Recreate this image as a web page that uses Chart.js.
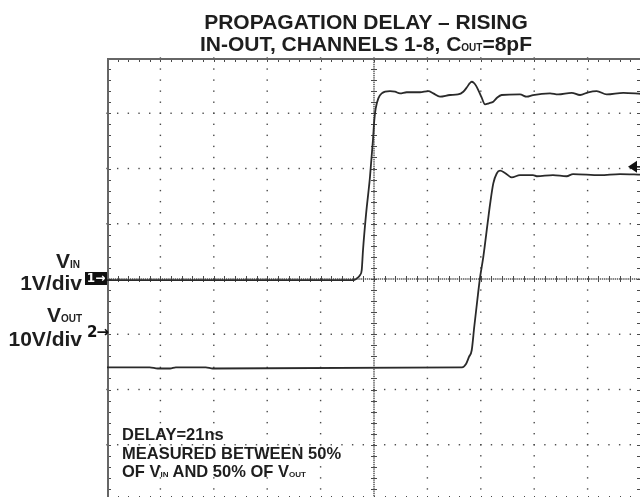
<!DOCTYPE html>
<html>
<head>
<meta charset="utf-8">
<script src="https://cdn.jsdelivr.net/npm/chart.js@4.4.1/dist/chart.umd.min.js"></script>
<style>
  html, body { margin: 0; padding: 0; background: #fff; overflow: hidden; width: 640px; height: 497px; }
  #wrap { position: relative; width: 640px; height: 497px; overflow: hidden; }
  #scope { position: absolute; left: 0; top: 0; }
  .t { position: absolute; white-space: nowrap; font-family: "Liberation Sans", Arial, sans-serif; font-weight: bold; color: #1e1e1e; }
  .sub { font-size: 10px; }
  .mk { font-family: "DejaVu Sans", "Liberation Sans", sans-serif; }
</style>
</head>
<body>
<div id="wrap">
  <canvas id="scope" width="641" height="500"></canvas>

  <div class="t" style="left:0;width:732px;text-align:center;top:10.7px;font-size:21px;line-height:21px">PROPAGATION DELAY – RISING</div>
  <div class="t" style="left:0;width:732px;text-align:center;top:33.2px;font-size:21px;line-height:21px">IN-OUT, CHANNELS 1-8, C<span class="sub">OUT</span>=8pF</div>

  <div class="t" style="left:0;width:80px;text-align:right;top:250.2px;font-size:21px;line-height:21px">V<span class="sub">IN</span></div>
  <div class="t" style="left:0;width:82px;text-align:right;top:271.7px;font-size:21px;line-height:21px">1V/div</div>
  <div class="t" style="left:0;width:82px;text-align:right;top:304.2px;font-size:21px;line-height:21px">V<span class="sub">OUT</span></div>
  <div class="t" style="left:0;width:82px;text-align:right;top:328.2px;font-size:21px;line-height:21px">10V/div</div>

  <div class="t mk" style="left:85px;top:272px;width:22px;height:13px;background:#111;color:#fff;font-size:12px;line-height:13px;text-align:center">1→</div>
  <div class="t mk" style="left:87px;top:325px;font-size:15px;line-height:15px;color:#111;letter-spacing:-1px">2→</div>

  <div class="t" style="left:122px;top:426px;font-size:16.5px;line-height:16.5px">DELAY=21ns</div>
  <div class="t" style="left:122px;top:444.5px;font-size:16.5px;line-height:16.5px">MEASURED BETWEEN 50%</div>
  <div class="t" style="left:122px;top:463px;font-size:16.5px;line-height:16.5px">OF V<span class="sub" style="font-size:8px">IN</span> AND 50% OF V<span class="sub" style="font-size:8px">OUT</span></div>
</div>

<script>
'use strict';

// Time axis in ns (10 ns/div), vertical axis in divisions
const X_MIN = -50, X_MAX = 50, X_STEP = 10;
const Y_MIN = -4, Y_MAX = 4, Y_STEP = 1;
const TRIG_LEVEL = 2.03;

// Channel 1 (VIN, 1V/div)
const vinTime = [-50, -3.75, -3.24, -2.62, -2.30, -2.06, -1.50, -0.75, -0.19, 0.06, 0.32, 0.81, 1.44,
  3.0, 3.93, 4.87, 6.12, 8.61, 10.17, 11.1, 12.36, 14.23, 15.73, 16.72, 17.4, 17.9, 18.30, 18.7, 19.1, 19.53,
  20.13, 20.79, 21.5, 22.34, 23.03, 23.9, 27.34, 28.6, 29.78, 32.96, 34.46, 37.02, 38.58, 40.13,
  41.70, 43.58, 46.69, 50];
const vinLevel = [-0.02, -0.02, 0.01, 0.07, 0.16, 0.52, 1.16, 1.85, 2.52, 2.88, 3.09, 3.27, 3.36,
  3.40, 3.39, 3.36, 3.38, 3.38, 3.40, 3.36, 3.30, 3.33, 3.34, 3.39, 3.47, 3.54, 3.57, 3.55, 3.50, 3.42,
  3.29, 3.16, 3.18, 3.21, 3.28, 3.33, 3.34, 3.30, 3.33, 3.36, 3.34, 3.37, 3.33, 3.38,
  3.40, 3.34, 3.37, 3.35];

// Channel 2 (VOUT, 10V/div)
const voutTime = [-50, -42.0, -40.5, -38.2, -37.1, -31.5, -30.2, 16.48, 17.23, 17.79, 18.30, 18.78,
  19.35, 19.85, 20.47, 21.29, 21.72, 22.34, 22.98, 23.60, 24.53, 25.79, 27.34, 29.78, 30.47,
  33.52, 36.08, 37.27, 42.32, 46.07, 50];
const voutLevel = [-1.60, -1.60, -1.62, -1.62, -1.60, -1.60, -1.62, -1.60, -1.54, -1.41, -1.29, -0.86,
  -0.38, 0.02, 0.40, 1.02, 1.34, 1.73, 1.91, 1.96, 1.92, 1.84, 1.88, 1.88, 1.86,
  1.88, 1.86, 1.90, 1.88, 1.90, 1.89];

const toPoints = (xs, ys) => xs.map((v, i) => ({ x: v, y: ys[i] }));

// Oscilloscope graticule: dotted major lines, ticked centre lines, ticked frame
const scopeGrid = {
  id: 'scopeGrid',
  beforeDatasetsDraw(chart) {
    const { ctx, chartArea: a, scales: { x, y } } = chart;
    const xDivs = (X_MAX - X_MIN) / X_STEP;
    const yDivs = (Y_MAX - Y_MIN) / Y_STEP;
    const dot = (px, py) => ctx.fillRect(px - 0.7, py - 0.7, 1.4, 1.4);
    ctx.save();
    ctx.fillStyle = '#4a4a4a';

    for (let i = 1; i < xDivs; i++) {
      if (i === xDivs / 2) continue;
      const px = x.getPixelForValue(X_MIN + i * X_STEP);
      for (let j = 0; j <= yDivs * 5; j++) dot(px, y.getPixelForValue(Y_MIN + j * Y_STEP / 5));
    }
    for (let i = 1; i < yDivs; i++) {
      if (i === yDivs / 2) continue;
      const py = y.getPixelForValue(Y_MIN + i * Y_STEP);
      for (let j = 0; j <= xDivs * 5; j++) dot(x.getPixelForValue(X_MIN + j * X_STEP / 5), py);
    }

    // centre lines
    const cx = x.getPixelForValue(0), cy = y.getPixelForValue(0);
    for (let j = 0; j <= yDivs * 25; j++) dot(cx, y.getPixelForValue(Y_MIN + j * Y_STEP / 25));
    for (let j = 0; j <= xDivs * 25; j++) dot(x.getPixelForValue(X_MIN + j * X_STEP / 25), cy);
    ctx.strokeStyle = '#4a4a4a';
    ctx.lineWidth = 1;
    ctx.beginPath();
    for (let j = 0; j <= yDivs * 5; j++) {
      const py = Math.round(y.getPixelForValue(Y_MIN + j * Y_STEP / 5)) + 0.5;
      ctx.moveTo(cx - 3, py); ctx.lineTo(cx + 3, py);
      ctx.moveTo(a.left, py); ctx.lineTo(a.left + 4, py);
      ctx.moveTo(a.right, py); ctx.lineTo(a.right - 4, py);
    }
    for (let j = 0; j <= xDivs * 5; j++) {
      const px = Math.round(x.getPixelForValue(X_MIN + j * X_STEP / 5)) + 0.5;
      ctx.moveTo(px, cy - 3); ctx.lineTo(px, cy + 3);
      ctx.moveTo(px, a.top); ctx.lineTo(px, a.top + 4);
      ctx.moveTo(px, a.bottom); ctx.lineTo(px, a.bottom - 4);
    }
    ctx.stroke();

    // frame (left and top are the visible edges)
    ctx.strokeStyle = '#666';
    ctx.lineWidth = 2;
    ctx.beginPath();
    ctx.moveTo(a.left + 1, a.bottom);
    ctx.lineTo(a.left + 1, a.top + 1);
    ctx.lineTo(a.right, a.top + 1);
    ctx.stroke();
    ctx.restore();
  },
  afterDatasetsDraw(chart) {
    const { ctx, chartArea: a, scales: { y } } = chart;
    const py = y.getPixelForValue(TRIG_LEVEL);
    const tip = a.right - 13;
    ctx.save();
    ctx.fillStyle = '#111';
    ctx.beginPath();
    ctx.moveTo(tip, py);
    ctx.lineTo(tip + 9, py - 6);
    ctx.lineTo(tip + 9, py + 6);
    ctx.closePath();
    ctx.fill();
    ctx.strokeStyle = '#111';
    ctx.lineWidth = 1.5;
    ctx.beginPath();
    ctx.moveTo(tip + 8, py);
    ctx.lineTo(a.right, py);
    ctx.stroke();
    ctx.restore();
  }
};

const ctx = document.getElementById('scope').getContext('2d');
new Chart(ctx, {
  type: 'line',
  data: {
    datasets: [
      { label: 'VIN', data: toPoints(vinTime, vinLevel) },
      { label: 'VOUT', data: toPoints(voutTime, voutLevel) }
    ]
  },
  options: {
    responsive: false,
    animation: false,
    devicePixelRatio: 1,
    layout: { padding: { left: 107, top: 58, right: 0, bottom: 0 } },
    elements: {
      point: { radius: 0 },
      line: { borderColor: '#2a2a2a', borderWidth: 1.8, cubicInterpolationMode: 'monotone', fill: false }
    },
    scales: {
      x: { type: 'linear', min: X_MIN, max: X_MAX, display: false },
      y: { type: 'linear', min: Y_MIN, max: Y_MAX, display: false }
    },
    plugins: { legend: { display: false }, tooltip: { enabled: false }, title: { display: false } }
  },
  plugins: [scopeGrid]
});
</script>
</body>
</html>
